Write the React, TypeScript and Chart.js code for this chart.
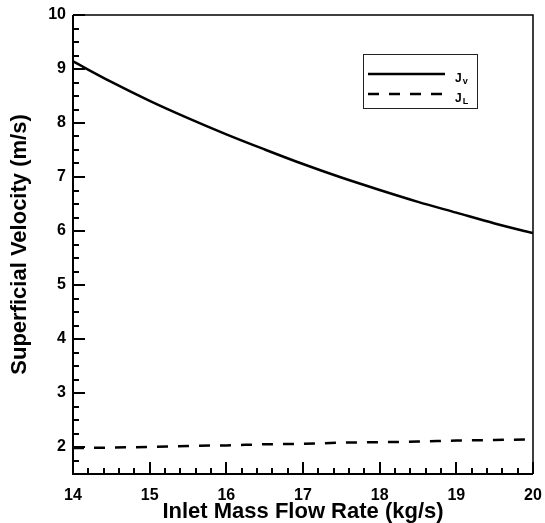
import React, { useEffect, useRef } from "react";
import { Chart, registerables } from "chart.js";

Chart.register(...registerables);

// ---- data ----
const flowRates = [14, 14.5, 15, 15.5, 16, 16.5, 17, 17.5, 18, 18.5, 19, 19.5, 20];
const jvValues = [9.14, 8.76, 8.41, 8.09, 7.79, 7.51, 7.24, 6.99, 6.76, 6.54, 6.34, 6.14, 5.96];
const jlValues = [1.98, 1.99, 2.0, 2.02, 2.03, 2.05, 2.06, 2.08, 2.09, 2.1, 2.12, 2.13, 2.14];

const xTickValues = [14, 15, 16, 17, 18, 19, 20];
const yTickValues = [2, 3, 4, 5, 6, 7, 8, 9, 10];
const xMinorStep = 0.2;
const yMinorStep = 0.25;

const xTitle = "Inlet Mass Flow Rate (kg/s)";
const yTitle = "Superficial Velocity (m/s)";
const seriesNames = [
  { main: "J", sub: "v" },
  { main: "J", sub: "L" },
];

const FONT = "'Liberation Sans', Arial, Helvetica, sans-serif";

const framePlugin = {
  id: "framePlugin",
  afterDraw(chart: any) {
    const ctx: CanvasRenderingContext2D = chart.ctx;
    const { left, right, top, bottom } = chart.chartArea;
    const xs = chart.scales.x;
    const ys = chart.scales.y;
    ctx.save();
    ctx.strokeStyle = "#000";
    ctx.lineCap = "butt";
    // top & right frame
    ctx.lineWidth = 1.5;
    ctx.beginPath();
    ctx.moveTo(left, top);
    ctx.lineTo(right, top);
    ctx.lineTo(right, bottom);
    ctx.stroke();
    // left & bottom axes
    ctx.lineWidth = 2;
    ctx.beginPath();
    ctx.moveTo(left, top);
    ctx.lineTo(left, bottom);
    ctx.lineTo(right, bottom);
    ctx.stroke();
    // ticks (inward)
    ctx.lineWidth = 2;
    ctx.beginPath();
    const xmin = xs.min, xmax = xs.max;
    for (let i = 0; xmin + i * xMinorStep <= xmax + 1e-9; i++) {
      const v = xmin + i * xMinorStep;
      const major = xTickValues.some((t) => Math.abs(t - v) < 1e-6);
      const px = Math.round(xs.getPixelForValue(v));
      ctx.moveTo(px, bottom);
      ctx.lineTo(px, bottom - (major ? 12 : 6));
    }
    const ymin = ys.min, ymax = ys.max;
    for (let i = 0; ymin + i * yMinorStep <= ymax + 1e-9; i++) {
      const v = ymin + i * yMinorStep;
      const major = yTickValues.some((t) => Math.abs(t - v) < 1e-6);
      const py = Math.round(ys.getPixelForValue(v));
      ctx.moveTo(left, py);
      ctx.lineTo(left + (major ? 12 : 6), py);
    }
    ctx.stroke();

    // legend box
    const bx = 363, by = 54, bw = 114, bh = 54;
    ctx.lineWidth = 1;
    ctx.strokeStyle = "#222";
    ctx.strokeRect(bx + 0.5, by + 0.5, bw, bh);
    const rows = [74, 94];
    chart.data.datasets.forEach((ds: any, i: number) => {
      const y = rows[i];
      ctx.save();
      ctx.strokeStyle = ds.borderColor;
      ctx.lineWidth = ds.borderWidth;
      ctx.setLineDash(ds.borderDash || []);
      ctx.beginPath();
      ctx.moveTo(368, y);
      ctx.lineTo(445, y);
      ctx.stroke();
      ctx.restore();
      ctx.fillStyle = "#000";
      ctx.textBaseline = "alphabetic";
      ctx.textAlign = "left";
      ctx.font = `bold 12px ${FONT}`;
      const name = seriesNames[i];
      ctx.fillText(name.main, 455, y + 8);
      const w = ctx.measureText(name.main).width;
      ctx.font = `bold 9px ${FONT}`;
      ctx.fillText(name.sub, 455 + w + 1, y + 10);
    });
    ctx.restore();
  },
};

export default function App() {
  const canvasRef = useRef<HTMLCanvasElement | null>(null);

  useEffect(() => {
    if (!canvasRef.current) return;
    const chart = new Chart(canvasRef.current, {
      type: "line",
      data: {
        datasets: [
          {
            label: "Jv",
            data: flowRates.map((x, i) => ({ x, y: jvValues[i] })),
            borderColor: "#000",
            borderWidth: 2.5,
            pointRadius: 0,
            tension: 0.4,
            cubicInterpolationMode: "monotone",
            fill: false,
          },
          {
            label: "JL",
            data: flowRates.map((x, i) => ({ x, y: jlValues[i] })),
            borderColor: "#000",
            borderWidth: 2.5,
            borderDash: [11, 10],
            pointRadius: 0,
            tension: 0.4,
            cubicInterpolationMode: "monotone",
            fill: false,
          },
        ],
      },
      options: {
        animation: false,
        responsive: false,
        maintainAspectRatio: false,
        layout: { padding: { left: 0, right: 12, top: 15, bottom: 0 } },
        plugins: {
          legend: { display: false },
          tooltip: { enabled: false },
        },
        scales: {
          x: {
            type: "linear",
            min: 14,
            max: 20,
            grid: { display: false, drawTicks: false },
            border: { display: false },
            afterBuildTicks: (s: any) => {
              s.ticks = xTickValues.map((v) => ({ value: v }));
            },
            afterFit: (s: any) => {
              s.height = 49;
              s.paddingLeft = 0;
              s.paddingRight = 0;
            },
            ticks: {
              color: "#000",
              padding: 14,
              maxRotation: 0,
              autoSkip: false,
              font: { family: FONT, size: 16, weight: "bold", lineHeight: 1 },
            },
            title: {
              display: true,
              text: xTitle,
              color: "#000",
              padding: { top: 0, bottom: 0 },
              font: { family: FONT, size: 22, weight: "bold", lineHeight: 1 },
            },
          },
          y: {
            type: "linear",
            min: 1.5,
            max: 10,
            grid: { display: false, drawTicks: false },
            border: { display: false },
            afterBuildTicks: (s: any) => {
              s.ticks = yTickValues.map((v) => ({ value: v }));
            },
            afterFit: (s: any) => {
              s.width = 73;
              s.paddingTop = 0;
              s.paddingBottom = 0;
            },
            ticks: {
              color: "#000",
              padding: 7,
              autoSkip: false,
              font: { family: FONT, size: 16, weight: "bold", lineHeight: 1 },
            },
            title: {
              display: true,
              text: yTitle,
              color: "#000",
              padding: { top: 9, bottom: 0 },
              font: { family: FONT, size: 22, weight: "bold", lineHeight: 1 },
            },
          },
        },
      },
      plugins: [framePlugin],
    } as any);
    return () => chart.destroy();
  }, []);

  return (
    <div
      style={{
        position: "fixed",
        left: 0,
        top: 0,
        width: 545,
        height: 523,
        background: "#fff",
        overflow: "hidden",
      }}
    >
      <canvas ref={canvasRef} width={545} height={523} style={{ display: "block" }} />
    </div>
  );
}
